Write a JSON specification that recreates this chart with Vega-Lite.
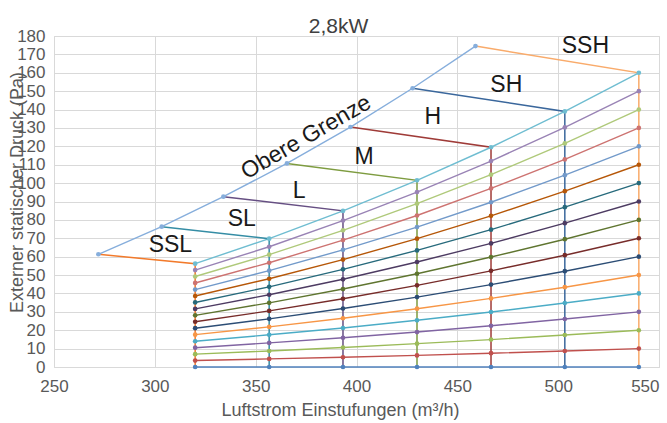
{
  "$schema": "https://vega.github.io/schema/vega-lite/v6.json",
  "width": 605,
  "height": 331,
  "autosize": "none",
  "padding": {"left": 54, "top": 36, "right": 8, "bottom": 56},
  "background": "white",
  "title": {"text": "2,8kW", "fontSize": 21, "font": "Liberation Sans", "fontWeight": "normal", "color": "#404040", "dx": -18, "dy": 31, "offset": 4, "baseline": "alphabetic", "anchor": "middle", "frame": "group"},
  "datasets": {
    "curves": [
      {"s":"c00","x":320,"y":0},{"s":"c00","x":356.7,"y":0},{"s":"c00","x":393.3,"y":0},{"s":"c00","x":430,"y":0},{"s":"c00","x":466.7,"y":0},{"s":"c00","x":503.3,"y":0},{"s":"c00","x":540,"y":0},
      {"s":"c10","x":320,"y":3.5},{"s":"c10","x":356.7,"y":4.4},{"s":"c10","x":393.3,"y":5.3},{"s":"c10","x":430,"y":6.3},{"s":"c10","x":466.7,"y":7.5},{"s":"c10","x":503.3,"y":8.7},{"s":"c10","x":540,"y":10},
      {"s":"c20","x":320,"y":7.0},{"s":"c20","x":356.7,"y":8.7},{"s":"c20","x":393.3,"y":10.6},{"s":"c20","x":430,"y":12.7},{"s":"c20","x":466.7,"y":14.9},{"s":"c20","x":503.3,"y":17.4},{"s":"c20","x":540,"y":20},
      {"s":"c30","x":320,"y":10.5},{"s":"c30","x":356.7,"y":13.1},{"s":"c30","x":393.3,"y":15.9},{"s":"c30","x":430,"y":19.0},{"s":"c30","x":466.7,"y":22.4},{"s":"c30","x":503.3,"y":26.1},{"s":"c30","x":540,"y":30},
      {"s":"c40","x":320,"y":14.0},{"s":"c40","x":356.7,"y":17.5},{"s":"c40","x":393.3,"y":21.2},{"s":"c40","x":430,"y":25.4},{"s":"c40","x":466.7,"y":29.9},{"s":"c40","x":503.3,"y":34.8},{"s":"c40","x":540,"y":40},
      {"s":"c50","x":320,"y":17.6},{"s":"c50","x":356.7,"y":21.8},{"s":"c50","x":393.3,"y":26.5},{"s":"c50","x":430,"y":31.7},{"s":"c50","x":466.7,"y":37.3},{"s":"c50","x":503.3,"y":43.4},{"s":"c50","x":540,"y":50},
      {"s":"c60","x":320,"y":21.1},{"s":"c60","x":356.7,"y":26.2},{"s":"c60","x":393.3,"y":31.8},{"s":"c60","x":430,"y":38.0},{"s":"c60","x":466.7,"y":44.8},{"s":"c60","x":503.3,"y":52.1},{"s":"c60","x":540,"y":60},
      {"s":"c70","x":320,"y":24.6},{"s":"c70","x":356.7,"y":30.5},{"s":"c70","x":393.3,"y":37.1},{"s":"c70","x":430,"y":44.4},{"s":"c70","x":466.7,"y":52.3},{"s":"c70","x":503.3,"y":60.8},{"s":"c70","x":540,"y":70},
      {"s":"c80","x":320,"y":28.1},{"s":"c80","x":356.7,"y":34.9},{"s":"c80","x":393.3,"y":42.4},{"s":"c80","x":430,"y":50.7},{"s":"c80","x":466.7,"y":59.8},{"s":"c80","x":503.3,"y":69.5},{"s":"c80","x":540,"y":80},
      {"s":"c90","x":320,"y":31.6},{"s":"c90","x":356.7,"y":39.3},{"s":"c90","x":393.3,"y":47.7},{"s":"c90","x":430,"y":57.1},{"s":"c90","x":466.7,"y":67.2},{"s":"c90","x":503.3,"y":78.2},{"s":"c90","x":540,"y":90},
      {"s":"c100","x":320,"y":35.1},{"s":"c100","x":356.7,"y":43.6},{"s":"c100","x":393.3,"y":53.1},{"s":"c100","x":430,"y":63.4},{"s":"c100","x":466.7,"y":74.7},{"s":"c100","x":503.3,"y":86.9},{"s":"c100","x":540,"y":100},
      {"s":"c110","x":320,"y":38.6},{"s":"c110","x":356.7,"y":48.0},{"s":"c110","x":393.3,"y":58.4},{"s":"c110","x":430,"y":69.8},{"s":"c110","x":466.7,"y":82.2},{"s":"c110","x":503.3,"y":95.6},{"s":"c110","x":540,"y":110},
      {"s":"c120","x":320,"y":42.1},{"s":"c120","x":356.7,"y":52.4},{"s":"c120","x":393.3,"y":63.7},{"s":"c120","x":430,"y":76.1},{"s":"c120","x":466.7,"y":89.6},{"s":"c120","x":503.3,"y":104.3},{"s":"c120","x":540,"y":120},
      {"s":"c130","x":320,"y":45.7},{"s":"c130","x":356.7,"y":56.7},{"s":"c130","x":393.3,"y":69.0},{"s":"c130","x":430,"y":82.4},{"s":"c130","x":466.7,"y":97.1},{"s":"c130","x":503.3,"y":112.9},{"s":"c130","x":540,"y":130},
      {"s":"c140","x":320,"y":49.2},{"s":"c140","x":356.7,"y":61.1},{"s":"c140","x":393.3,"y":74.3},{"s":"c140","x":430,"y":88.8},{"s":"c140","x":466.7,"y":104.6},{"s":"c140","x":503.3,"y":121.6},{"s":"c140","x":540,"y":140},
      {"s":"c150","x":320,"y":52.7},{"s":"c150","x":356.7,"y":65.4},{"s":"c150","x":393.3,"y":79.6},{"s":"c150","x":430,"y":95.1},{"s":"c150","x":466.7,"y":112.0},{"s":"c150","x":503.3,"y":130.3},{"s":"c150","x":540,"y":150},
      {"s":"c160","x":320,"y":56.2},{"s":"c160","x":356.7,"y":69.8},{"s":"c160","x":393.3,"y":84.9},{"s":"c160","x":430,"y":101.5},{"s":"c160","x":466.7,"y":119.5},{"s":"c160","x":503.3,"y":139.0},{"s":"c160","x":540,"y":160}
    ],
    "steps": [
      {"s":"SSL","o":0,"x":272,"y":61.3},{"s":"SSL","o":1,"x":320,"y":56.2},{"s":"SSL","o":2,"x":320,"y":0},
      {"s":"SL","o":0,"x":303.4,"y":76.3},{"s":"SL","o":1,"x":356.7,"y":69.8},{"s":"SL","o":2,"x":356.7,"y":0},
      {"s":"L","o":0,"x":334,"y":92.6},{"s":"L","o":1,"x":393.3,"y":84.9},{"s":"L","o":2,"x":393.3,"y":0},
      {"s":"M","o":0,"x":365.5,"y":110.7},{"s":"M","o":1,"x":430,"y":101.5},{"s":"M","o":2,"x":430,"y":0},
      {"s":"H","o":0,"x":397,"y":130.5},{"s":"H","o":1,"x":466.7,"y":119.5},{"s":"H","o":2,"x":466.7,"y":0},
      {"s":"SH","o":0,"x":427.8,"y":151.6},{"s":"SH","o":1,"x":503.3,"y":139.0},{"s":"SH","o":2,"x":503.3,"y":0},
      {"s":"SSH","o":0,"x":459,"y":174.5},{"s":"SSH","o":1,"x":540,"y":160},{"s":"SSH","o":2,"x":540,"y":0}
    ],
    "boundary": [
      {"s":"OG","x":272,"y":61.3},{"s":"OG","x":303.4,"y":76.3},{"s":"OG","x":334,"y":92.6},{"s":"OG","x":365.5,"y":110.7},{"s":"OG","x":397,"y":130.5},{"s":"OG","x":427.8,"y":151.6},{"s":"OG","x":459,"y":174.5}
    ],
    "labels": [
      {"t":"SSL","x":307.7,"y":66.2},{"t":"SL","x":343.1,"y":80.5},{"t":"L","x":371.6,"y":95.5},{"t":"M","x":403.8,"y":114},{"t":"H","x":437.8,"y":136},{"t":"SH","x":474.3,"y":153.4},{"t":"SSH","x":513.5,"y":174.5}
    ],
    "og": [{"t":"Obere Grenze","x":375,"y":125}]
  },
  "encoding": {
    "x": {
      "field": "x", "type": "quantitative",
      "scale": {"domain": [250, 550], "nice": false, "zero": false},
      "axis": {"title": "Luftstrom Einstufungen (m³/h)", "values": [250, 300, 350, 400, 450, 500, 550], "labelFlush": false, "labelAlign": {"expr": "datum.value == 550 ? 'right' : 'center'"}, "labelPadding": 11, "labelBaseline": "top", "titleX": 286, "titleY": 48, "titleBaseline": "alphabetic", "titleAnchor": null, "titleAlign": "center"}
    },
    "y": {
      "field": "y", "type": "quantitative",
      "scale": {"domain": [0, 180], "nice": false},
      "axis": {"title": "Externer statischer Druck (Pa)", "values": [0,10,20,30,40,50,60,70,80,90,100,110,120,130,140,150,160,170,180], "labelPadding": 9, "titleX": -37, "titleY": 156, "titleAngle": -90, "titleBaseline": "middle", "titleAlign": "center", "titleAnchor": null}
    }
  },
  "layer": [
    {
      "data": {"name": "curves"},
      "mark": {"type": "line", "strokeWidth": 1.4},
      "encoding": {
        "color": {"field": "s", "type": "nominal", "legend": null,
          "scale": {
            "domain": ["c00","c10","c20","c30","c40","c50","c60","c70","c80","c90","c100","c110","c120","c130","c140","c150","c160","SSH","SH","H","M","L","SL","SSL","OG"],
            "range": ["#4F81BD","#C0504D","#9BBB59","#8064A2","#4BACC6","#F79646","#2C4D75","#772C2A","#5F7530","#4D3B62","#276A7C","#B65708","#729ACA","#CD7371","#AFC97A","#9983B5","#6FBDD1","#F9AB6B","#3A679C","#9F3B38","#7E9C40","#664F83","#358DA5","#F27A2B","#86AEDC"]
          }
        },
        "detail": {"field": "s"}
      }
    },
    {
      "data": {"name": "steps"},
      "mark": {"type": "line", "strokeWidth": 1.5},
      "encoding": {
        "color": {"field": "s", "type": "nominal", "legend": null},
        "order": {"field": "o", "type": "quantitative"}
      }
    },
    {
      "data": {"name": "curves"},
      "mark": {"type": "point", "filled": true, "size": 22, "opacity": 1},
      "encoding": {
        "color": {"field": "s", "type": "nominal", "legend": null}
      }
    },
    {
      "data": {"name": "boundary"},
      "mark": {"type": "line", "strokeWidth": 1.4, "point": {"filled": true, "size": 22, "opacity": 1}},
      "encoding": {
        "color": {"field": "s", "type": "nominal", "legend": null}
      }
    },
    {
      "data": {"name": "labels"},
      "mark": {"type": "text", "font": "Liberation Sans", "fontSize": 23, "color": "#1a1a1a", "baseline": "middle", "align": "center"},
      "encoding": {
        "text": {"field": "t"}
      }
    },
    {
      "data": {"name": "og"},
      "mark": {"type": "text", "font": "Liberation Sans", "fontSize": 23, "color": "#1a1a1a", "baseline": "middle", "align": "center", "angle": -30},
      "encoding": {
        "text": {"field": "t"}
      }
    }
  ],
  "resolve": {"scale": {"color": "shared"}},
  "config": {
    "view": {"stroke": "#D9D9D9"},
    "axis": {
      "gridColor": "#D9D9D9",
      "gridWidth": 1,
      "domain": false,
      "ticks": false,
      "tickSize": 0,
      "labelColor": "#595959",
      "labelFont": "Liberation Sans Narrow, Liberation Sans",
      "labelFontSize": 17,
      "titleColor": "#595959",
      "titleFont": "Liberation Sans",
      "titleFontSize": 18,
      "titleFontWeight": "normal"
    }
  }
}
